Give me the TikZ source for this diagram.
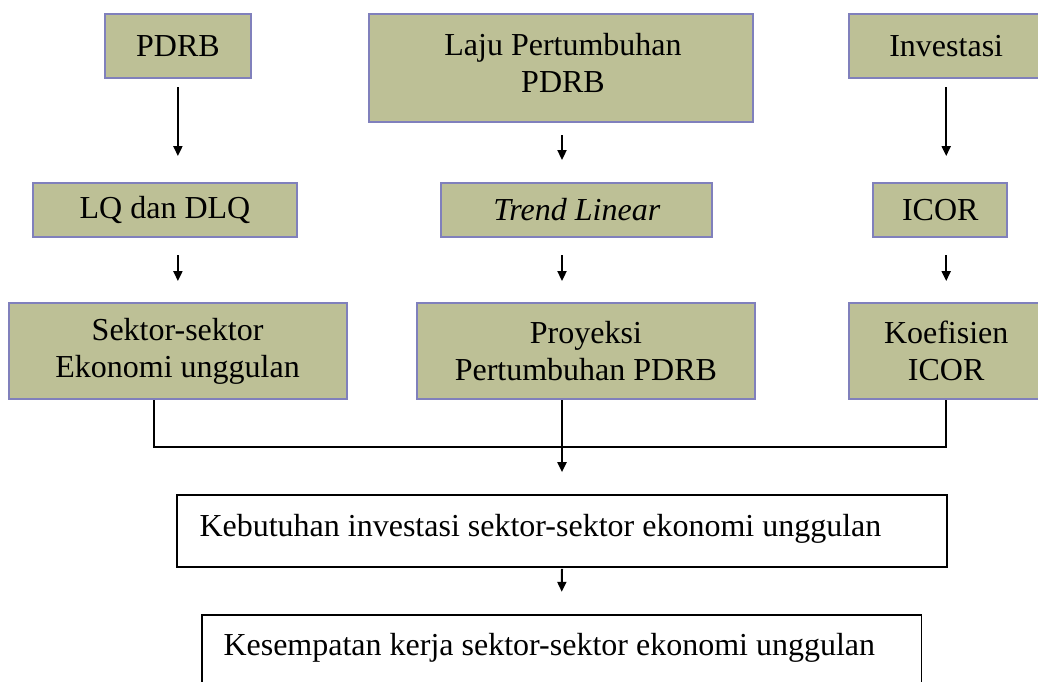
\documentclass[tikz,border=0pt]{standalone}
\usepackage{fontspec}
\setmainfont{Liberation Serif}
\usetikzlibrary{arrows.meta,calc}
\definecolor{boxfill}{RGB}{189,192,150}
\definecolor{boxline}{RGB}{128,128,188}
\begin{document}
\begin{tikzpicture}[x=1pt,y=-1pt,
  greenbox/.style={draw=boxline,fill=boxfill,line width=2pt,inner sep=0pt,align=center,font=\fontsize{32}{36.7}\selectfont},
  whitebox/.style={draw=black,fill=white,line width=1.8pt,inner sep=0pt},
  txt/.style={inner sep=0pt,align=center,font=\fontsize{32}{36.7}\selectfont},
  arr/.style={line width=2pt,-{Triangle[length=10pt,width=9pt]}},
  conn/.style={line width=2pt}]
\fill[white] (0,0) rectangle (1038,681);
\useasboundingbox (0,0) rectangle (1038,681);
% top row
\node[greenbox,minimum width=145.7pt,minimum height=63.7pt] (pdrb) at (177.9,46.2) {PDRB};
\node[greenbox,minimum width=384.3pt,minimum height=108pt] (laju) at (561.2,68.3) {};
\node[txt,anchor=base] (lajutxt) at (563,92.3) {Laju Pertumbuhan\\PDRB};
\node[greenbox,minimum width=193.7pt,minimum height=63.7pt] (inv) at (946.2,46.2) {Investasi};
% middle row
\node[greenbox,minimum width=264pt,minimum height=54.3pt] (lq) at (165,209.9) {LQ dan DLQ};
\node[greenbox,minimum width=271pt,minimum height=54.3pt] (trend) at (576.8,209.9) {\itshape Trend Linear};
\node[greenbox,minimum width=134pt,minimum height=54.3pt] (icor) at (940.3,209.9) {ICOR};
% third row
\node[greenbox,minimum width=338pt,minimum height=96.3pt] (sektor) at (177.6,351.2) {Sektor-sektor\\Ekonomi unggulan};
\node[greenbox,minimum width=337.2pt,minimum height=96.3pt] (proy) at (585.9,351.2) {Proyeksi\\Pertumbuhan PDRB};
\node[greenbox,minimum width=193.7pt,minimum height=96.3pt] (koef) at (946.2,351.2) {Koefisien\\ICOR};
% bottom boxes
\node[whitebox,minimum width=769.3pt,minimum height=71.7pt] (keb) at (562,530.9) {};
\node[txt,anchor=base west] (kebtxt) at (199.3,536) {Kebutuhan investasi sektor-sektor ekonomi unggulan};
\node[whitebox,minimum width=719.5pt,minimum height=80pt] (kes) at (561.75,655) {};
\node[txt,anchor=base west] (kestxt) at (223.3,655.7) {Kesempatan kerja sektor-sektor ekonomi unggulan};
% arrows
\draw[arr] ([yshift=-8pt]pdrb.south) -- ([yshift=25.7pt]lq.north -| pdrb.south);
\draw[arr] ([yshift=-17pt]lq.south -| pdrb.south) -- ([yshift=21pt]sektor.north -| pdrb.south);
\draw[arr] ([yshift=-11.7pt]laju.south -| keb.north) -- ([yshift=21.7pt]trend.north -| keb.north);
\draw[arr] ([yshift=-17pt]trend.south -| keb.north) -- ([yshift=21pt]proy.north -| keb.north);
\draw[arr] ([yshift=-8pt]inv.south) -- ([yshift=25.7pt]icor.north -| inv.south);
\draw[arr] ([yshift=-17pt]icor.south -| inv.south) -- ([yshift=21pt]koef.north -| inv.south);
% merge
\coordinate (jl) at (153.6,446.7);
\coordinate (jr) at (koef.south |- jl);
\draw[conn] (sektor.south -| jl) -- (jl) -- (jr) -- (koef.south);
\draw[arr] (proy.south -| keb.north) -- ([yshift=22pt]keb.north);
\draw[arr] ([yshift=-1.3pt]keb.south) -- ([yshift=22.3pt]kes.north);
\end{tikzpicture}
\end{document}
